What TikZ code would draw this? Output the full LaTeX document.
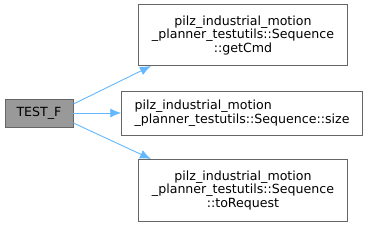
\documentclass[tikz,border=0pt]{standalone}
\usepackage{fontspec}
\setmainfont{DejaVu Sans}
\usetikzlibrary{arrows.meta}
\definecolor{edgeblue}{RGB}{99,184,255}
\definecolor{boxgray}{RGB}{153,153,153}
\definecolor{bordergray}{RGB}{102,102,102}
\begin{document}
\begin{tikzpicture}[x=1pt,y=-1pt,
  box/.style={draw=bordergray, line width=0.9pt, fill=white, inner sep=0pt, font=\fontsize{12.6}{13.6}\selectfont, align=center},
  conn/.style={draw=edgeblue, line width=0.9pt, -{Latex[length=11pt,width=9pt]}}]
\useasboundingbox (0,0) rectangle (369,227);
\node[box, fill=boxgray, minimum width=68pt, minimum height=27.5pt] (t) at (39,113.5) {TEST\_F};
\node[box, minimum width=209.4pt, minimum height=60.7pt] (a) at (243,35.3) {pilz\_industrial\_motion\\\_planner\_testutils::Sequence\\::getCmd};
\node[box, minimum width=240.6pt, minimum height=43.3pt, align=left] (b) at (242,113.3) {pilz\_industrial\_motion\\\_planner\_testutils::Sequence::size};
\node[box, minimum width=209.4pt, minimum height=61.7pt] (c) at (243,190.2) {pilz\_industrial\_motion\\\_planner\_testutils::Sequence\\::toRequest};
\draw[conn] (t.east |- 0,104) -- (151,66);
\draw[conn] (t.east |- 0,113) -- (b.west |- 0,113);
\draw[conn] (t.east |- 0,123) -- (151,159);
\end{tikzpicture}
\end{document}
